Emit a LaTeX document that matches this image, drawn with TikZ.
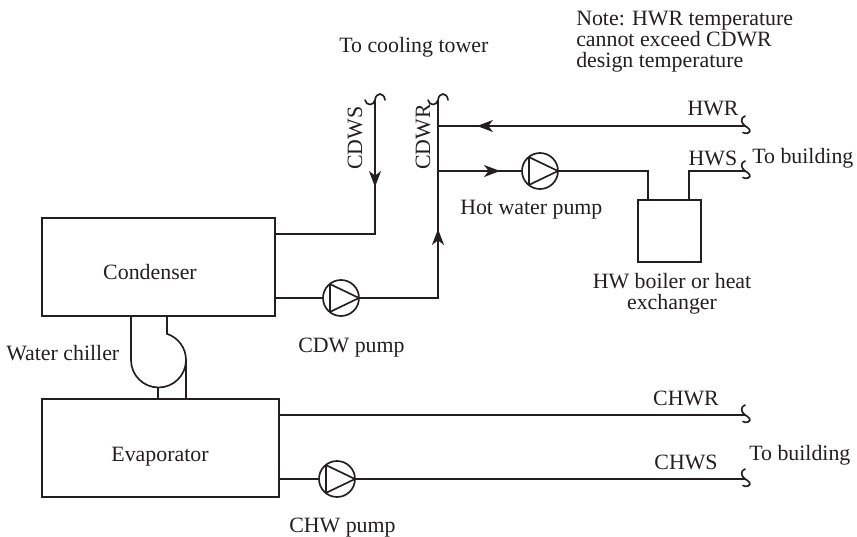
\documentclass[tikz,border=0pt]{standalone}
\usepackage{fontspec}
\setmainfont{Liberation Serif}
\usetikzlibrary{arrows.meta}
\definecolor{ink}{HTML}{231F20}
\tikzset{
  pipe/.style={draw=ink,line width=1.25pt},
  flowtip/.style={pipe,-{Stealth[length=12pt,width=9pt,inset=3.5pt]}},
  unit/.style={pipe,rectangle,inner sep=0pt,anchor=north west},
  pump/.style={pipe,circle,minimum size=27pt,inner sep=0pt,
    path picture={\draw[pipe,line join=round]
      ([xshift=-8.2pt,yshift=10.4pt]path picture bounding box.center)
      -- ([xshift=-8.2pt,yshift=-10.4pt]path picture bounding box.center)
      -- ([xshift=13.5pt]path picture bounding box.center) -- cycle;}},
  lbl/.style={text=ink,inner sep=0pt,anchor=base,font=\fontsize{16.4}{15.75}\selectfont},
  breakend/.style={pipe,line cap=round}
}
\begin{document}
\begin{tikzpicture}[x=0.75pt,y=-0.75pt]
\useasboundingbox (0,0) rectangle (857,536);
% units
\node[unit,minimum width=233*0.75pt,minimum height=98*0.75pt] (cond) at (41,217) {};
\node[lbl] (condl) at (150,279) {Condenser};
\node[unit,minimum width=237*0.75pt,minimum height=98*0.75pt] (evap) at (41,398) {};
\node[lbl] (evapl) at (160,461) {Evaporator};
\node[unit,minimum width=63*0.75pt,minimum height=62*0.75pt] (boiler) at (637,199) {};
% pumps
\node[pump] (cdwp) at (341,298) {};
\node[pump] (hwp) at (540,171) {};
\node[pump] (chwp) at (337,479) {};
% coordinates
\coordinate (cdwsT) at (375,100);
\coordinate (cdwsB) at (375,234);
\coordinate (cdwsL) at (274,234);
\coordinate (cdwsA) at (375,187);
\coordinate (cdwrT) at (438,100);
\coordinate (cdwrB) at (438,298);
\coordinate (cdwrA) at (438,229);
\coordinate (cdwrH) at (438,126);
\coordinate (cdwrS) at (438,171);
\coordinate (hwrE) at (746,126);
\coordinate (hwrA) at (477,126);
\coordinate (hotA) at (500,171);
\coordinate (hotC) at (648,171);
\coordinate (hotD) at (648,199);
\coordinate (hwsU) at (689,199);
\coordinate (hwsC) at (689,171);
\coordinate (hwsE) at (746,171);
\coordinate (cdwL) at (274,298);
\coordinate (chwrL) at (278,415);
\coordinate (chwrE) at (746,415);
\coordinate (chwsL) at (278,479);
\coordinate (chwsE) at (746,479);
% cooling tower lines
\draw[pipe] (cdwsL) -- (cdwsB) -- (cdwsT);
\draw[flowtip] (cdwsT) -- (cdwsA);
\draw[pipe] (cdwL) -- (cdwp);
\draw[pipe] (cdwp) -- (cdwrB) -- (cdwrT);
\draw[flowtip] (cdwrB) -- (cdwrA);
% hot water
\draw[pipe] (hwrE) -- (cdwrH);
\draw[flowtip] (hwrE) -- (hwrA);
\draw[pipe] (cdwrS) -- (hwp);
\draw[flowtip] (cdwrS) -- (hotA);
\draw[pipe] (hwp) -- (hotC) -- (hotD);
\draw[pipe] (hwsU) -- (hwsC) -- (hwsE);
% chilled water
\draw[pipe] (chwrL) -- (chwrE);
\draw[pipe] (chwsL) -- (chwp);
\draw[pipe] (chwp) -- (chwsE);
% chiller
\draw[pipe] (131,315) -- (131,360) arc[start angle=180,end angle=-72,radius=27.5] -- (167,315);
\draw[pipe] (158,387.5) -- (158,398);
\draw[pipe] (186,360) -- (186,398);
% break marks
\foreach \n in {cdwsT,cdwrT}{
  \begin{scope}[shift={(\n)}]
  \draw[breakend] (-10,0) .. controls (-9,6) and (-1,6) .. (0,0)
     .. controls (1,-8) and (9,-8) .. (10,0);
  \end{scope}
}
\foreach \n in {hwrE,hwsE,chwrE,chwsE}{
  \begin{scope}[shift={(\n)}]
  \draw[breakend] (-1,-10) .. controls (-6,-8) and (-5,-3) .. (-1,0)
     .. controls (3,2) and (6,5) .. (2,7) .. controls (0,7.5) and (-2,7.5) .. (-3,6.5);
  \end{scope}
}
% labels
\node[lbl,align=left,anchor=north west] (note) at (576,10.5) {Note: HWR temperature\\cannot exceed CDWR\\design temperature};
\node[lbl,anchor=base west] (tower) at (339,52) {To cooling tower};
\node[lbl,rotate=90] (cdwsl) at (362,138) {CDWS};
\node[lbl,rotate=90] (cdwrl) at (430,137) {CDWR};
\node[lbl] (hwrl) at (713,115) {HWR};
\node[lbl] (hwsl) at (713,165) {HWS};
\node[lbl,anchor=base west] (b1) at (752,163) {To building};
\node[lbl,anchor=base west] (hwpl) at (460,214) {Hot water pump};
\node[lbl,align=center,anchor=north] (boill) at (672,273) {HW boiler or heat\\exchanger};
\node[lbl,anchor=base west] (cdwpl) at (298,352) {CDW pump};
\node[lbl,anchor=base west] (chill) at (6,360) {Water chiller};
\node[lbl] (chwrl) at (686,405) {CHWR};
\node[lbl] (chwsl) at (686,469) {CHWS};
\node[lbl,anchor=base west] (b2) at (749,460) {To building};
\node[lbl,anchor=base west] (chwpl) at (289,532) {CHW pump};
\end{tikzpicture}
\end{document}
